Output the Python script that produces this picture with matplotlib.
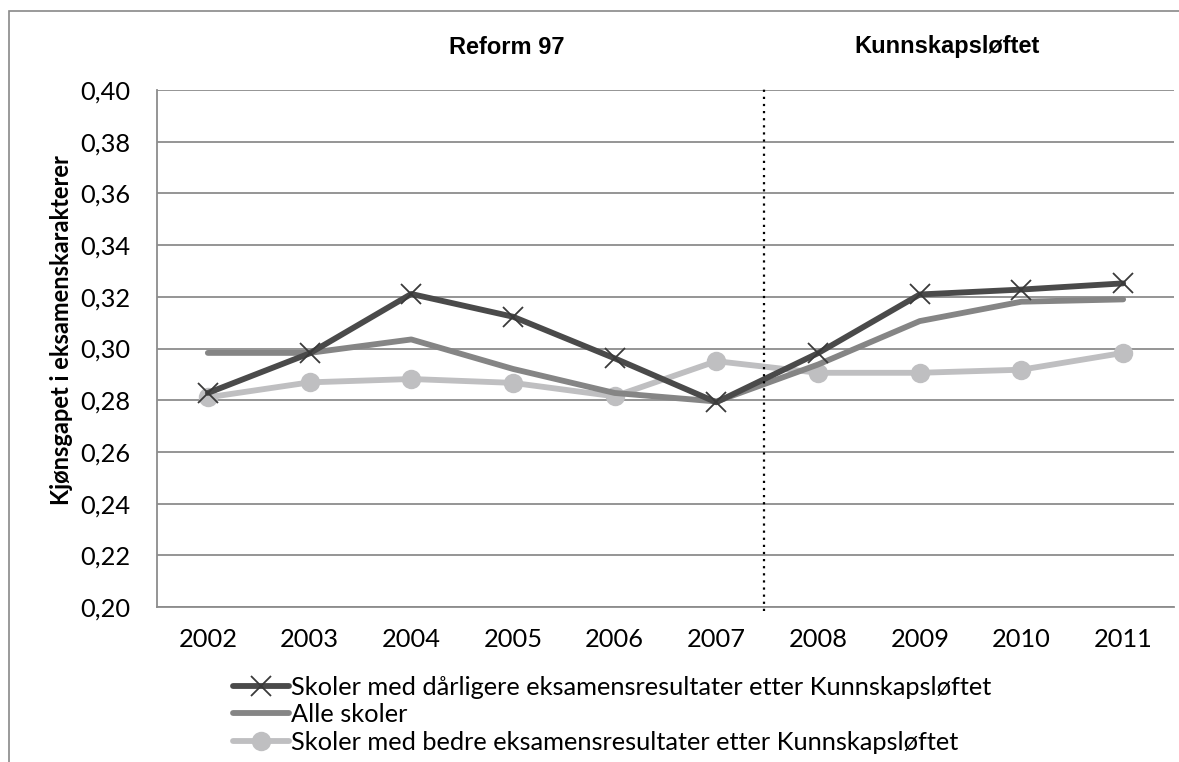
import matplotlib
matplotlib.use("Agg")
import matplotlib.pyplot as plt
from matplotlib.patches import Rectangle

# Data
years = ["2002", "2003", "2004", "2005", "2006", "2007", "2008", "2009", "2010", "2011"]
worse_schools = [0.2828, 0.2981, 0.3211, 0.3123, 0.2962, 0.2792, 0.2982, 0.3209, 0.3228, 0.3252]
all_schools = [0.2983, 0.2983, 0.3035, 0.2921, 0.2828, 0.2795, 0.2938, 0.3106, 0.3181, 0.3190]
better_schools = [0.2811, 0.2869, 0.2882, 0.2867, 0.2815, 0.2951, 0.2906, 0.2906, 0.2918, 0.2983]

labels = [
    "Skoler med dårligere eksamensresultater etter Kunnskapsløftet",
    "Alle skoler",
    "Skoler med bedre eksamensresultater etter Kunnskapsløftet",
]
period_titles = ["Reform 97", "Kunnskapsløftet"]
y_ticks = [0.20, 0.22, 0.24, 0.26, 0.28, 0.30, 0.32, 0.34, 0.36, 0.38, 0.40]
y_label = "Kjønsgapet i eksamenskarakterer"

W, H = 1179, 762
fig = plt.figure(figsize=(W / 100, H / 100), dpi=100)
fig.patch.set_facecolor("white")


def fx(px):
    return px / W


def fy(py):
    return 1 - py / H


FS = 18.3

# Outer chart frame
fig.patches.append(Rectangle((fx(9), fy(800)), fx(1300), fy(11) - fy(800),
                             transform=fig.transFigure, fill=False,
                             edgecolor="#898989", linewidth=1.2))

ax = fig.add_axes([fx(157), fy(607), fx(1174) - fx(157), fy(90) - fy(607)])

x = list(range(len(years)))
grid_col = "#8c8c8c"

for yv in y_ticks:
    ax.axhline(yv, color=grid_col, linewidth=1.3, zorder=1)

ax.plot(x, worse_schools, color="#4a4a4a", linewidth=4.2, marker="x",
        markersize=14, markeredgewidth=1.3, markeredgecolor="#3a3a3a",
        label=labels[0], zorder=4, solid_capstyle="round")
ax.plot(x, all_schools, color="#858585", linewidth=4.2,
        label=labels[1], zorder=3, solid_capstyle="round")
ax.plot(x, better_schools, color="#bfbfc1", linewidth=4.2, marker="o",
        markersize=14, markeredgewidth=0, markerfacecolor="#bfbfc1",
        label=labels[2], zorder=2, solid_capstyle="round")

# Boundary between the two reforms
ax.plot([5.47, 5.47], [0.1985, 0.4015], color="black", linewidth=1.6,
        linestyle=(0, (1, 2.2)), clip_on=False, zorder=5)

ax.set_xlim(-0.5, len(years) - 0.5)
ax.set_ylim(0.20, 0.40)
ax.set_xticks(x)
ax.set_xticklabels(years)
ax.set_yticks(y_ticks)
ax.set_yticklabels([f"{v:.2f}".replace(".", ",") for v in y_ticks])
ax.tick_params(axis="both", length=0, labelsize=FS, colors="black")
ax.tick_params(axis="x", pad=15)
ax.tick_params(axis="y", pad=19)
for lab in ax.get_xticklabels() + ax.get_yticklabels():
    lab.set_family("Lato")

for side in ["top", "right"]:
    ax.spines[side].set_visible(False)
for side in ["left", "bottom"]:
    ax.spines[side].set_color(grid_col)
    ax.spines[side].set_linewidth(1.3)

# Period headings
fig.text(fx(507), fy(47), period_titles[0], ha="center", va="center",
         family="Liberation Sans", fontweight="bold", fontsize=17)
fig.text(fx(947), fy(47), period_titles[1], ha="center", va="center",
         family="Liberation Sans", fontweight="bold", fontsize=17)

# Axis title
fig.text(fx(62), fy(330), y_label, rotation=90, ha="center", va="center",
         family="Lato", fontweight="bold", fontsize=17)

leg = fig.legend(loc="upper left", bbox_to_anchor=(fx(233), fy(676)),
                 frameon=False, prop={"family": "Lato", "size": FS},
                 handlelength=2.2, handletextpad=0.1, labelspacing=0.17,
                 borderpad=0, borderaxespad=0)

fig.savefig("out.png", dpi=100, facecolor="white")
